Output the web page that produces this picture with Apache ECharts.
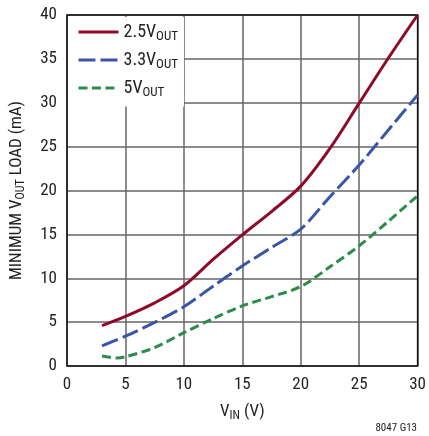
<!DOCTYPE html>
<html>
<head>
<meta charset="utf-8">
<script src="https://cdn.jsdelivr.net/npm/echarts@6/dist/echarts.min.js"></script>
<style>html,body{margin:0;padding:0;background:#fff;}#c{width:429px;height:436px;}</style>
</head>
<body>
<div id="c"></div>
<script>
var seriesNames = ['2.5V', '3.3V', '5V'];
var vinRed = [3, 5, 7.5, 10, 12.5, 15, 17.5, 20, 22.5, 25, 27.5, 30];
var load25 = [4.6, 5.65, 7.2, 9.15, 12.15, 14.95, 17.6, 20.5, 24.8, 29.95, 35.1, 40];
var vinBlue = [3, 5, 7.5, 10, 12.5, 15, 17.5, 20, 22.5, 25, 27.5, 30];
var load33 = [2.3, 3.4, 4.97, 6.75, 9.1, 11.4, 13.5, 15.6, 19.3, 22.9, 26.9, 30.9];
var vinGreen = [3, 4.3, 5, 7.5, 10, 12.5, 15, 17.5, 20, 22.5, 25, 27.5, 30];
var load5 = [1.15, 0.9, 1.05, 2.1, 3.8, 5.4, 6.85, 7.9, 9.05, 11.3, 13.7, 16.5, 19.4];

function pairs(xs, ys) { return xs.map(function (x, i) { return [x, ys[i]]; }); }

var FONT = '"Roboto Condensed", "DejaVu Sans Condensed", "Liberation Sans", sans-serif';
var chart = echarts.init(document.getElementById('c'), null, {renderer: 'canvas'});
var colors = ['#8e0a2a', '#3a55a5', '#2e8b4c'];
var sub = {fontSize: 12, color: '#222', fontFamily: FONT, padding: [9, 0, 0, 0]};
var main = {fontSize: 17, color: '#222', fontFamily: FONT};
var lsub = {fontSize: 13, color: '#222', fontFamily: FONT, padding: [10, 0, 0, 0]};
var lmain = {fontSize: 18, color: '#222', fontFamily: FONT};
chart.setOption({
  animation: false,
  textStyle: {fontFamily: FONT},
  grid: {left: 66, right: 11, top: 15, bottom: 70, show: true, borderColor: '#111', borderWidth: 1.5, z: 3},
  xAxis: {
    type: 'value', min: 0, max: 30, interval: 5,
    name: '{v|V}{s|IN}{v| (V)}', nameLocation: 'middle', nameGap: 35,
    nameTextStyle: {rich: {v: main, s: sub}},
    axisLine: {show: false}, axisTick: {show: false},
    axisLabel: {fontSize: 17, color: '#222', margin: 10, fontFamily: FONT},
    splitLine: {lineStyle: {color: '#666', width: 1.5}}
  },
  yAxis: {
    type: 'value', min: 0, max: 40, interval: 5,
    name: '{v|MINIMUM V}{s|OUT}{v| LOAD (mA)}', nameLocation: 'middle', nameGap: 40, nameRotate: 90,
    nameTextStyle: {rich: {v: main, s: sub}},
    axisLine: {show: false}, axisTick: {show: false},
    axisLabel: {fontSize: 17, color: '#222', margin: 10, fontFamily: FONT},
    splitLine: {lineStyle: {color: '#666', width: 1.5}}
  },
  legend: {
    left: 68, top: 17, orient: 'vertical', backgroundColor: '#fff',
    padding: [6, 6, 7, 9], itemWidth: 40, itemHeight: 14, itemGap: 7.5, itemTextGap: 8,
    data: seriesNames,
    itemStyle: {opacity: 0},
    lineStyle: {width: 3},
    formatter: function (n) { return '{v|' + n + '}{s|OUT}'; },
    textStyle: {rich: {v: lmain, s: lsub}}
  },
  graphic: [
    {type: 'text', right: 12, bottom: 2, style: {text: '8047 G13', fontSize: 11, fill: '#222', fontFamily: FONT}}
  ],
  series: [
    {name: seriesNames[0], type: 'line', data: pairs(vinRed, load25), smooth: 0.3, symbol: 'none', color: colors[0], lineStyle: {width: 3, color: colors[0]}, z: 5},
    {name: seriesNames[1], type: 'line', data: pairs(vinBlue, load33), smooth: 0.3, symbol: 'none', color: colors[1], lineStyle: {width: 3, color: colors[1], type: [17, 5]}, z: 5},
    {name: seriesNames[2], type: 'line', data: pairs(vinGreen, load5), smooth: 0.3, symbol: 'none', color: colors[2], lineStyle: {width: 3, color: colors[2], type: [9, 4.5]}, z: 5}
  ]
});
</script>
</body>
</html>
